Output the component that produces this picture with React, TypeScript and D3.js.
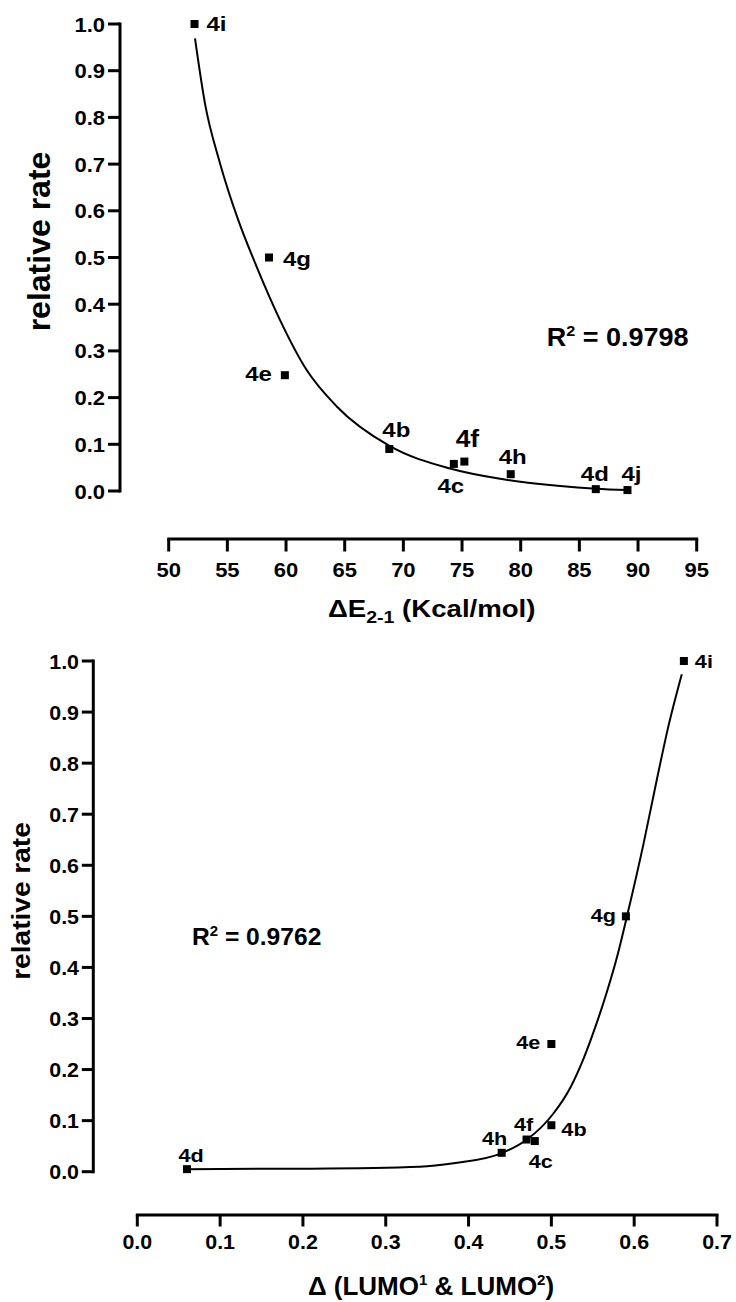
import React from "react";
import * as d3 from "d3";

// tick values
const ENERGY_TICKS = [50, 55, 60, 65, 70, 75, 80, 85, 90, 95];
const RATE_TICKS = [0, 0.1, 0.2, 0.3, 0.4, 0.5, 0.6, 0.7, 0.8, 0.9, 1.0];
const LUMO_TICKS = [0, 0.1, 0.2, 0.3, 0.4, 0.5, 0.6, 0.7];

// top panel: relative rate vs ΔE2-1
const topNames = ["4i", "4g", "4e", "4b", "4c", "4f", "4h", "4d", "4j"];
const topEnergy = [52.2, 58.55, 59.9, 68.8, 74.3, 75.2, 79.15, 86.4, 89.1];
const topRate = [1.0, 0.5, 0.248, 0.09, 0.058, 0.063, 0.036, 0.004, 0.002];

// fitted curve
const topFitEnergy = [52.24, 53.09, 54.37, 55.93, 57.5, 59.49, 61.76, 64.32, 68.78, 73.98, 78.24, 80.8, 86.42, 89.06];
const topFitRate = [0.969, 0.83, 0.702, 0.58, 0.48, 0.366, 0.259, 0.181, 0.097, 0.048, 0.026, 0.017, 0.005, 0.002];

// bottom panel: relative rate vs Δ(LUMO1 & LUMO2)
const botNames = ["4d", "4h", "4f", "4c", "4b", "4e", "4g", "4i"];
const botLumo = [0.06, 0.44, 0.47, 0.48, 0.5, 0.5, 0.59, 0.66];
const botRate = [0.005, 0.037, 0.063, 0.06, 0.091, 0.25, 0.5, 1.0];

const botFitLumo = [0.06, 0.21, 0.341, 0.382, 0.441, 0.471, 0.502, 0.523, 0.539, 0.553, 0.567, 0.58, 0.592, 0.611, 0.627, 0.641, 0.6575];
const botFitRate = [0.005, 0.006, 0.0098, 0.0165, 0.037, 0.0635, 0.113, 0.165, 0.222, 0.283, 0.352, 0.425, 0.505, 0.64, 0.765, 0.87, 0.974];

// label placement relative to each marker
const topLabelPos = {
  "4i": { dx: 12, dy: 7, anchor: "start" },
  "4g": { dx: 14, dy: 8, anchor: "start" },
  "4e": { dx: -13, dy: 6, anchor: "end" },
  "4b": { dx: 7, dy: -12, anchor: "middle" },
  "4c": { dx: -3, dy: 29, anchor: "middle" },
  "4f": { dx: 3, dy: -15, anchor: "middle", big: true },
  "4h": { dx: 2, dy: -10, anchor: "middle" },
  "4d": { dx: -1, dy: -8, anchor: "middle" },
  "4j": { dx: 4, dy: -9, anchor: "middle" },
};
const botLabelPos = {
  "4d": { dx: 4, dy: -7, anchor: "middle" },
  "4h": { dx: -7, dy: -8, anchor: "middle" },
  "4f": { dx: -3, dy: -9, anchor: "middle" },
  "4c": { dx: 6, dy: 27, anchor: "middle" },
  "4b": { dx: 10, dy: 11, anchor: "start" },
  "4e": { dx: -11, dy: 5, anchor: "end" },
  "4g": { dx: -10, dy: 6, anchor: "end" },
  "4i": { dx: 11, dy: 7, anchor: "start" },
};

const FONT = "'Liberation Sans', Arial, Helvetica, sans-serif";
const fmt = d3.format(".1f");

function Txt({ x, y, size, sx = 1, anchor = "start", rotate = 0, children }: any) {
  const rot = rotate ? ` rotate(${rotate})` : "";
  return (
    <text
      transform={`translate(${x},${y})${rot} scale(${sx},1)`}
      fontSize={size}
      textAnchor={anchor}
      fontWeight="bold"
      fontFamily={FONT}
      fill="#000"
    >
      {children}
    </text>
  );
}

function YAxis({ y, x, ticks, len, labelX, sx }: any) {
  return (
    <g>
      <line x1={x} x2={x} y1={y(1)} y2={y(0)} stroke="#000" strokeWidth={3} strokeLinecap="square" />
      {ticks.map((t: number) => (
        <g key={t}>
          <line x1={x - len} x2={x} y1={y(t)} y2={y(t)} stroke="#000" strokeWidth={3} />
          <Txt x={labelX} y={y(t) + 7.5} size={20} sx={sx} anchor="end">{fmt(t)}</Txt>
        </g>
      ))}
    </g>
  );
}

function XAxis({ x, y, ticks, len, labelY, sx, format }: any) {
  const [a, b] = x.domain();
  return (
    <g>
      <line x1={x(a)} x2={x(b)} y1={y} y2={y} stroke="#000" strokeWidth={3} strokeLinecap="square" />
      {ticks.map((t: number) => (
        <g key={t}>
          <line x1={x(t)} x2={x(t)} y1={y} y2={y + len} stroke="#000" strokeWidth={3} />
          <Txt x={x(t)} y={labelY} size={20} sx={sx} anchor="middle">{format(t)}</Txt>
        </g>
      ))}
    </g>
  );
}

export default function App() {
  const xTop = d3.scaleLinear().domain([50, 95]).range([168.7, 696.7]);
  const yTop = d3.scaleLinear().domain([0, 1]).range([491, 24]);
  const xBot = d3.scaleLinear().domain([0, 0.7]).range([137.3, 717]);
  const yBot = d3.scaleLinear().domain([0, 1]).range([1171.7, 661]);

  const topLine = d3
    .line<number>()
    .x((d) => xTop(topFitEnergy[d]))
    .y((d) => yTop(topFitRate[d]))
    .curve(d3.curveMonotoneX);
  const botLine = d3
    .line<number>()
    .x((d) => xBot(botFitLumo[d]))
    .y((d) => yBot(botFitRate[d]))
    .curve(d3.curveMonotoneX);

  const ms = 8;

  return (
    <svg
      width={736}
      height={1302}
      style={{ position: "absolute", left: 0, top: 0, background: "#fff" }}
    >
      <rect width={736} height={1302} fill="#fff" />

      {/* ---------- top panel ---------- */}
      <YAxis y={yTop} x={120} ticks={RATE_TICKS} len={12} labelX={105} sx={1.1} />
      <XAxis x={xTop} y={539} ticks={ENERGY_TICKS} len={12.5} labelY={576.5} sx={1.1} format={(d: number) => String(d)} />
      <Txt x={50} y={241.5} size={32} anchor="middle" rotate={-90}>relative rate</Txt>
      <Txt x={431.7} y={616.7} size={24} sx={1.15} anchor="middle">
        ΔE<tspan dy={6.5} fontSize={17}>2-1</tspan>
        <tspan dy={-6.5}> (Kcal/mol)</tspan>
      </Txt>
      <Txt x={546.7} y={346} size={25} sx={1.08}>
        R<tspan dy={-10} fontSize={15}>2</tspan>
        <tspan dy={10}> = 0.9798</tspan>
      </Txt>

      <path
        d={topLine(d3.range(topFitEnergy.length)) || ""}
        fill="none"
        stroke="#000"
        strokeWidth={2}
      />
      {topNames.map((n, i) => {
        const cx = xTop(topEnergy[i]);
        const cy = yTop(topRate[i]);
        const p = (topLabelPos as any)[n];
        return (
          <g key={n}>
            <rect x={cx - ms / 2} y={cy - ms / 2} width={ms} height={ms} fill="#000" />
            <Txt x={cx + p.dx} y={cy + p.dy} size={p.big ? 24 : 20} sx={p.big ? 1.1 : 1.2} anchor={p.anchor}>
              {n}
            </Txt>
          </g>
        );
      })}

      {/* ---------- bottom panel ---------- */}
      <YAxis y={yBot} x={93.3} ticks={RATE_TICKS} len={11.5} labelX={79} sx={1.07} />
      <XAxis x={xBot} y={1215} ticks={LUMO_TICKS} len={11.5} labelY={1249} sx={1.07} format={fmt} />
      <Txt x={30} y={901} size={26} sx={1.08} anchor="middle" rotate={-90}>relative rate</Txt>
      <Txt x={431} y={1295} size={26} anchor="middle">
        Δ (LUMO<tspan dy={-10} fontSize={15}>1</tspan>
        <tspan dy={10}> &amp; LUMO</tspan>
        <tspan dy={-10} fontSize={15}>2</tspan>
        <tspan dy={10}>)</tspan>
      </Txt>
      <Txt x={192} y={945} size={23} sx={1.07}>
        R<tspan dy={-9} fontSize={14}>2</tspan>
        <tspan dy={9}> = 0.9762</tspan>
      </Txt>

      <path
        d={botLine(d3.range(botFitLumo.length)) || ""}
        fill="none"
        stroke="#000"
        strokeWidth={2}
      />
      {botNames.map((n, i) => {
        const cx = xBot(botLumo[i]);
        const cy = yBot(botRate[i]);
        const p = (botLabelPos as any)[n];
        return (
          <g key={n}>
            <rect x={cx - ms / 2} y={cy - ms / 2} width={ms} height={ms} fill="#000" />
            <Txt x={cx + p.dx} y={cy + p.dy} size={18} sx={1.2} anchor={p.anchor}>
              {n}
            </Txt>
          </g>
        );
      })}
    </svg>
  );
}
